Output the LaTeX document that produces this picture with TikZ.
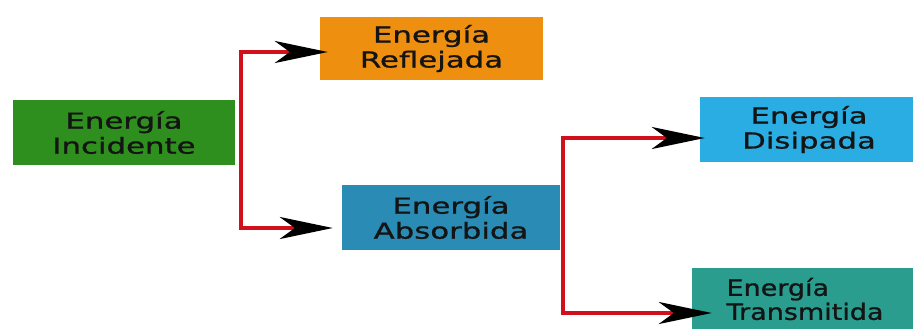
\documentclass[tikz,border=0pt]{standalone}
\usepackage{fontspec}
\setmainfont{DejaVu Sans}[FakeStretch=1.4, FakeBold=1]
\newfontfamily\narrowfont{DejaVu Sans}[FakeStretch=1.2, FakeBold=1]
\usetikzlibrary{arrows.meta}
\definecolor{incgreen}{RGB}{47,143,30}
\definecolor{refOrange}{RGB}{238,143,16}
\definecolor{absBlue}{RGB}{42,139,181}
\definecolor{disBlue}{RGB}{42,173,227}
\definecolor{traTeal}{RGB}{42,157,143}
\definecolor{flowred}{RGB}{208,16,26}
\definecolor{txt}{RGB}{20,20,20}
\tikzset{
  box/.style={inner sep=0pt, align=center, text=txt,
    font=\fontsize{22}{25}\selectfont},
  flow/.style={draw=flowred, line width=4pt, line join=miter,
    {Stealth[black, length=53pt, width=22pt, inset=15pt]}-{Stealth[black, length=53pt, width=22pt, inset=15pt]}}
}
\begin{document}
\begin{tikzpicture}[x=1pt,y=-1pt]
	    \useasboundingbox (0,0) rectangle (913,329);
	    \node[box, fill=incgreen, minimum width=222pt, minimum height=65pt] (inc) at (124,132.5) {Energía\\Incidente};
	    \node[box, fill=refOrange, minimum width=223pt, minimum height=63pt] (refl) at (431.5,48.5) {Energía\\Reflejada};
	    \node[box, fill=absBlue, minimum width=218pt, minimum height=65pt] (abs) at (451,217.5) {Energía\\Absorbida};
	    \node[box, fill=disBlue, minimum width=218pt, minimum height=65pt] (dis) at (809,129.5) {Energía\\Disipada};
	    \node[box, fill=traTeal, minimum width=226pt, minimum height=62pt, align=left, font=\narrowfont\fontsize{22.5}{24}\selectfont] (tra) at (805,299) {Energía\\Transmitida};
	    \coordinate (j1top) at (241,52);
	    \coordinate (j1bot) at (241,228);
	    \coordinate (j2top) at (563,138);
	    \coordinate (j2bot) at (563,313);
	    \draw[flow] ([xshift=8pt]j1top -| refl.west) -- (j1top) -- (j1bot) -- ([xshift=-9pt]j1bot -| abs.west);
	    \draw[flow] ([xshift=5pt]j2top -| dis.west) -- (j2top) -- (j2bot) -- ([xshift=20pt]j2bot -| tra.west);
\end{tikzpicture}
\end{document}
